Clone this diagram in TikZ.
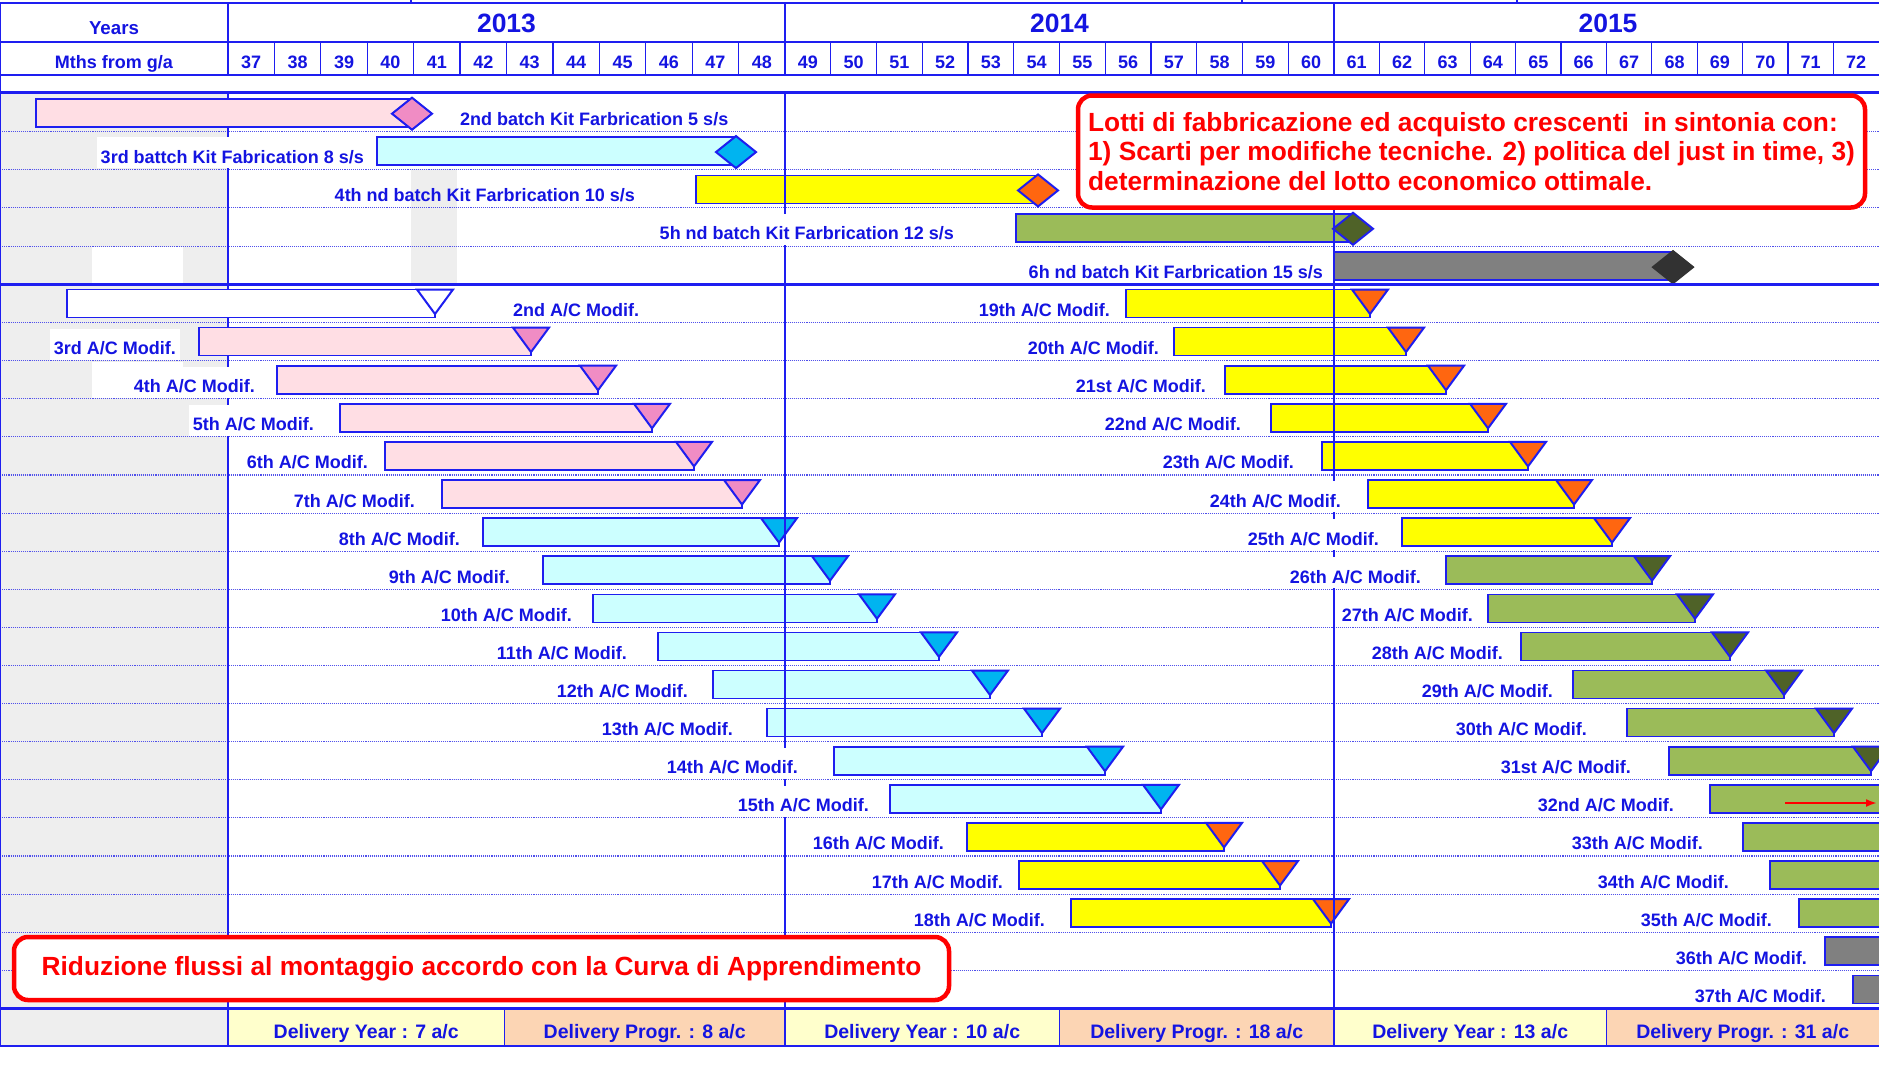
\documentclass[tikz,border=0pt]{standalone}
\usepackage{fontspec}
\setmainfont{Liberation Sans}
\usetikzlibrary{arrows.meta}

\definecolor{gridblue}{RGB}{30,30,240}
\definecolor{dotblue}{RGB}{80,80,235}
\definecolor{txtblue}{RGB}{20,20,225}
\definecolor{colgray}{RGB}{238,238,238}
\definecolor{pinkbar}{RGB}{255,222,228}
\definecolor{pinkmark}{RGB}{240,140,196}
\definecolor{cyanbar}{RGB}{204,255,255}
\definecolor{cyanmark}{RGB}{0,180,240}
\definecolor{yelbar}{RGB}{255,255,0}
\definecolor{orgmark}{RGB}{255,102,16}
\definecolor{grnbar}{RGB}{155,187,89}
\definecolor{grnmark}{RGB}{79,98,40}
\definecolor{graybar}{RGB}{128,128,128}
\definecolor{graymark}{RGB}{50,50,50}
\definecolor{delyel}{RGB}{255,255,204}
\definecolor{delpeach}{RGB}{252,213,180}
\definecolor{callred}{RGB}{255,0,0}

\newcommand\fsz[1]{\fontsize{#1pt}{#1pt}\selectfont}

\tikzset{
  gridline/.style={draw=gridblue, line width=1.2pt},
  thickline/.style={draw=gridblue, line width=2.6pt},
  rowsep/.style={draw=dotblue, line width=1.1pt, densely dotted},
  barline/.style={draw=gridblue, line width=1.6pt},
  markline/.style={draw=gridblue, line width=2pt, line join=miter},
  lbl/.style={text=txtblue, font=\fsz{18}\bfseries, inner xsep=4pt, inner ysep=0pt, text height=26pt, text depth=5pt},
  lblw/.style={lbl, fill=white},
  hdr/.style={text=txtblue, font=\fsz{18}\bfseries, inner sep=0pt},
  yr/.style={text=txtblue, font=\fsz{26.5}\bfseries, inner sep=0pt},
  dlv/.style={text=txtblue, font=\fsz{19.5}\bfseries, inner sep=0pt},
  callout/.style={draw=callred, line width=4.5pt, rounded corners=14pt, fill=white},
  calltext/.style={text=callred, font=\fontsize{26.3pt}{29.5pt}\selectfont\bfseries, align=left},
}

% kit batch bar with a diamond at its end: row, start, end, bar fill, marker style
\newcommand\kitbar[5]{%
  \pgfmathsetmacro\rt{92.7+38.36*#1}
  \draw[barline,fill=#4] (#2,\rt+6) rectangle (#3,\rt+34);
  \draw[markline,#5] (#3-20,\rt+21) -- (#3,\rt+5) -- (#3+20,\rt+21) -- (#3,\rt+37) -- cycle;
}
% aircraft modification bar with a down triangle at its end
\newcommand\acbar[5]{%
  \pgfmathsetmacro\rt{284.5+38.1*#1}
  \draw[barline,fill=#4] (#2,\rt+5) rectangle (#3,\rt+33);
  \draw[markline,#5] (#3-18,\rt+5) -- (#3+18,\rt+5) -- (#3,\rt+29.5) -- cycle;
}
% label to the left of a modification bar: name, row, right end, text
\newcommand\aclab[4]{%
  \pgfmathsetmacro\rt{284.5+38.1*#2}
  \node[lblw, anchor=base east] (#1) at (#3+4,\rt+32) {#4};
}

\begin{document}
\begin{tikzpicture}[x=1pt,y=-1pt]
\useasboundingbox (0,0) rectangle (1879,1066);
\clip (0,0) rectangle (1879,1066);
\fill[white] (0,0) rectangle (1879,1066);

% cell backgrounds
\fill[colgray] (0,92.7) rectangle (228,1008.4);
\fill[colgray] (0,1008.4) rectangle (228,1046);
\fill[delyel] (228,1008.4) rectangle (504.5,1046);
\fill[delpeach] (504.5,1008.4) rectangle (785,1046);
\fill[delyel] (785,1008.4) rectangle (1059.5,1046);
\fill[delpeach] (1059.5,1008.4) rectangle (1334,1046);
\fill[delyel] (1334,1008.4) rectangle (1606.4,1046);
\fill[delpeach] (1606.4,1008.4) rectangle (1879,1046);
\fill[colgray] (411,169.4) rectangle (457,284.5);
\fill[white] (92,247) rectangle (183,284);
\fill[white] (92,361.5) rectangle (183,398);

% row separators
\foreach \k in {1,...,4} \draw[rowsep] (0,92.7+38.36*\k) -- (1879,92.7+38.36*\k);
\foreach \k in {1,...,18} \draw[rowsep] (0,284.5+38.1*\k) -- (1879,284.5+38.1*\k);

% first column border and left border
\draw[gridline] (228,92.7) -- (228,1046);
\draw[gridline] (0.7,3) -- (0.7,1046);

% kit batches
\kitbar{0}{36}{412}{pinkbar}{fill=pinkmark}
\kitbar{1}{377}{736}{cyanbar}{fill=cyanmark}
\kitbar{2}{696}{1038}{yelbar}{fill=orgmark}
\kitbar{3}{1016}{1353}{grnbar}{fill=grnmark}
\kitbar{4}{1334}{1673}{graybar}{fill=graymark,draw=graymark}

% modifications, first column of bars
\acbar{0}{67}{435}{white}{fill=white}
\acbar{1}{199}{531}{pinkbar}{fill=pinkmark}
\acbar{2}{277}{598}{pinkbar}{fill=pinkmark}
\acbar{3}{340}{652}{pinkbar}{fill=pinkmark}
\acbar{4}{385}{694}{pinkbar}{fill=pinkmark}
\acbar{5}{442}{742}{pinkbar}{fill=pinkmark}
\acbar{6}{483}{779}{cyanbar}{fill=cyanmark}
\acbar{7}{543}{830}{cyanbar}{fill=cyanmark}
\acbar{8}{593}{877}{cyanbar}{fill=cyanmark}
\acbar{9}{658}{939}{cyanbar}{fill=cyanmark}
\acbar{10}{713}{990}{cyanbar}{fill=cyanmark}
\acbar{11}{767}{1042}{cyanbar}{fill=cyanmark}
\acbar{12}{834}{1105}{cyanbar}{fill=cyanmark}
\acbar{13}{890}{1161}{cyanbar}{fill=cyanmark}
\acbar{14}{967}{1224}{yelbar}{fill=orgmark}
\acbar{15}{1019}{1280}{yelbar}{fill=orgmark}
\acbar{16}{1071}{1331}{yelbar}{fill=orgmark}
% modifications, second column of bars
\acbar{0}{1126}{1370}{yelbar}{fill=orgmark}
\acbar{1}{1174}{1406}{yelbar}{fill=orgmark}
\acbar{2}{1225}{1446}{yelbar}{fill=orgmark}
\acbar{3}{1271}{1488}{yelbar}{fill=orgmark}
\acbar{4}{1322}{1528}{yelbar}{fill=orgmark}
\acbar{5}{1368}{1574}{yelbar}{fill=orgmark}
\acbar{6}{1402}{1612}{yelbar}{fill=orgmark}
\acbar{7}{1446}{1652}{grnbar}{fill=grnmark}
\acbar{8}{1488}{1695}{grnbar}{fill=grnmark}
\acbar{9}{1521}{1730}{grnbar}{fill=grnmark}
\acbar{10}{1573}{1784}{grnbar}{fill=grnmark}
\acbar{11}{1627}{1834}{grnbar}{fill=grnmark}
\acbar{12}{1669}{1871}{grnbar}{fill=grnmark}
\acbar{13}{1710}{1930}{grnbar}{fill=grnmark}
\acbar{14}{1743}{1930}{grnbar}{fill=grnmark}
\acbar{15}{1770}{1930}{grnbar}{fill=grnmark}
\acbar{16}{1799}{1930}{grnbar}{fill=grnmark}
\acbar{17}{1825}{1930}{graybar}{fill=graymark}
\acbar{18}{1853}{1930}{graybar}{fill=graymark}

% year borders
\draw[gridline] (785,92.7) -- (785,1046);
\draw[gridline] (1334,92.7) -- (1334,1046);
\draw[gridline] (504.5,1008.4) -- (504.5,1046);
\draw[gridline] (1059.5,1008.4) -- (1059.5,1046);
\draw[gridline] (1606.4,1008.4) -- (1606.4,1046);

% kit labels
\node[lbl, anchor=base west] (kl1) at (456,125.7) {2nd batch Kit Farbrication 5 s/s};
\node[lblw, anchor=base east] (kl2) at (368,163.1) {3rd battch Kit Fabrication 8 s/s};
\node[lbl, anchor=base east] (kl3) at (639,201.4) {4th nd batch Kit Farbrication 10 s/s};
\node[lblw, anchor=base east] (kl4) at (958,239.8) {5h nd batch Kit Farbrication 12 s/s};
\node[lblw, anchor=base east] (kl5) at (1327,278.1) {6h nd batch Kit Farbrication 15 s/s};

% modification labels
\node[lblw, anchor=base west] (al2) at (509,316.5) {2nd A/C Modif.};
\aclab{al3}{1}{176}{3rd A/C Modif.}
\aclab{al4}{2}{255}{4th A/C Modif.}
\aclab{al5}{3}{314}{5th A/C Modif.}
\aclab{al6}{4}{368}{6th A/C Modif.}
\aclab{al7}{5}{415}{7th A/C Modif.}
\aclab{al8}{6}{460}{8th A/C Modif.}
\aclab{al9}{7}{510}{9th A/C Modif.}
\aclab{al10}{8}{572}{10th A/C Modif.}
\aclab{al11}{9}{627}{11th A/C Modif.}
\aclab{al12}{10}{688}{12th A/C Modif.}
\aclab{al13}{11}{733}{13th A/C Modif.}
\aclab{al14}{12}{798}{14th A/C Modif.}
\aclab{al15}{13}{869}{15th A/C Modif.}
\aclab{al16}{14}{944}{16th A/C Modif.}
\aclab{al17}{15}{1003}{17th A/C Modif.}
\aclab{al18}{16}{1045}{18th A/C Modif.}
\aclab{al19}{0}{1110}{19th A/C Modif.}
\aclab{al20}{1}{1159}{20th A/C Modif.}
\aclab{al21}{2}{1206}{21st A/C Modif.}
\aclab{al22}{3}{1241}{22nd A/C Modif.}
\aclab{al23}{4}{1294}{23th A/C Modif.}
\aclab{al24}{5}{1341}{24th A/C Modif.}
\aclab{al25}{6}{1379}{25th A/C Modif.}
\aclab{al26}{7}{1421}{26th A/C Modif.}
\aclab{al27}{8}{1473}{27th A/C Modif.}
\aclab{al28}{9}{1503}{28th A/C Modif.}
\aclab{al29}{10}{1553}{29th A/C Modif.}
\aclab{al30}{11}{1587}{30th A/C Modif.}
\aclab{al31}{12}{1631}{31st A/C Modif.}
\aclab{al32}{13}{1674}{32nd A/C Modif.}
\aclab{al33}{14}{1703}{33th A/C Modif.}
\aclab{al34}{15}{1729}{34th A/C Modif.}
\aclab{al35}{16}{1772}{35th A/C Modif.}
\aclab{al36}{17}{1807}{36th A/C Modif.}
\aclab{al37}{18}{1826}{37th A/C Modif.}

% header grid
\draw[gridline] (228,3) -- (228,75);
\draw[gridline] (785,3) -- (785,75);
\draw[gridline] (1334,3) -- (1334,75);
\foreach \m in {1,...,11} {
  \draw[gridline] (228+46.417*\m,42) -- (228+46.417*\m,75);
  \draw[gridline] (785+45.75*\m,42) -- (785+45.75*\m,75);
  \draw[gridline] (1334+45.4*\m,42) -- (1334+45.4*\m,75);
}
\foreach \x in {411,1242,1517} \draw[gridline] (\x,0) -- (\x,3);
\draw[gridline] (0,42) -- (1879,42);
\draw[thickline] (0,3) -- (1879,3);
\draw[thickline] (0,75) -- (1879,75);
\draw[thickline] (0,92.7) -- (1879,92.7);
\draw[thickline] (0,284.5) -- (1879,284.5);
\draw[thickline] (0,1008.4) -- (1879,1008.4);
\draw[thickline] (0,1046) -- (1879,1046);

% header texts
\node[hdr, anchor=base, font=\fsz{18.7}\bfseries] (years) at (114,34) {Years};
\node[hdr, anchor=base] (mths) at (114,68.5) {Mths from g/a};
\node[yr, anchor=base] (y2013) at (506.5,32) {2013};
\node[yr, anchor=base] (y2014) at (1059.5,32) {2014};
\node[yr, anchor=base] (y2015) at (1608,32) {2015};
\foreach \m in {0,...,11} {
  \pgfmathtruncatemacro\na{37+\m}
  \pgfmathtruncatemacro\nb{49+\m}
  \pgfmathtruncatemacro\nc{61+\m}
  \node[hdr, anchor=base] (m\na) at (228+46.417*\m+23.2,68.5) {\na};
  \node[hdr, anchor=base] (m\nb) at (785+45.75*\m+22.9,68.5) {\nb};
  \node[hdr, anchor=base] (m\nc) at (1334+45.4*\m+22.7,68.5) {\nc};
}

% deliveries
\node[dlv, anchor=base] (d1) at (366.2,1038) {Delivery Year : 7 a/c};
\node[dlv, anchor=base] (d2) at (644.7,1038) {Delivery Progr. : 8 a/c};
\node[dlv, anchor=base] (d3) at (922.2,1038) {Delivery Year : 10 a/c};
\node[dlv, anchor=base] (d4) at (1196.7,1038) {Delivery Progr. : 18 a/c};
\node[dlv, anchor=base] (d5) at (1470.2,1038) {Delivery Year : 13 a/c};
\node[dlv, anchor=base] (d6) at (1742.7,1038) {Delivery Progr. : 31 a/c};

% notes
\node[callout, calltext, minimum width=787pt, minimum height=112pt] (lotti) at (1471.5,151.5)
  {Lotti di fabbricazione ed acquisto crescenti~ in sintonia con:\\
   1) Scarti per modifiche tecniche. 2) politica del just in time, 3)\\
   determinazione del lotto economico ottimale.};
\node[callout, calltext, minimum width=935pt, minimum height=63pt] (riduz) at (481.5,968.5)
  {Riduzione flussi al montaggio accordo con la Curva di Apprendimento};

% shift arrow on the 32nd modification
\coordinate (arrS) at (1785,803);
\coordinate (arrE) at (1877,803);
\draw[callred, line width=2pt, -{Latex[length=11pt,width=8pt]}] (arrS) -- (arrE);
\end{tikzpicture}
\end{document}
